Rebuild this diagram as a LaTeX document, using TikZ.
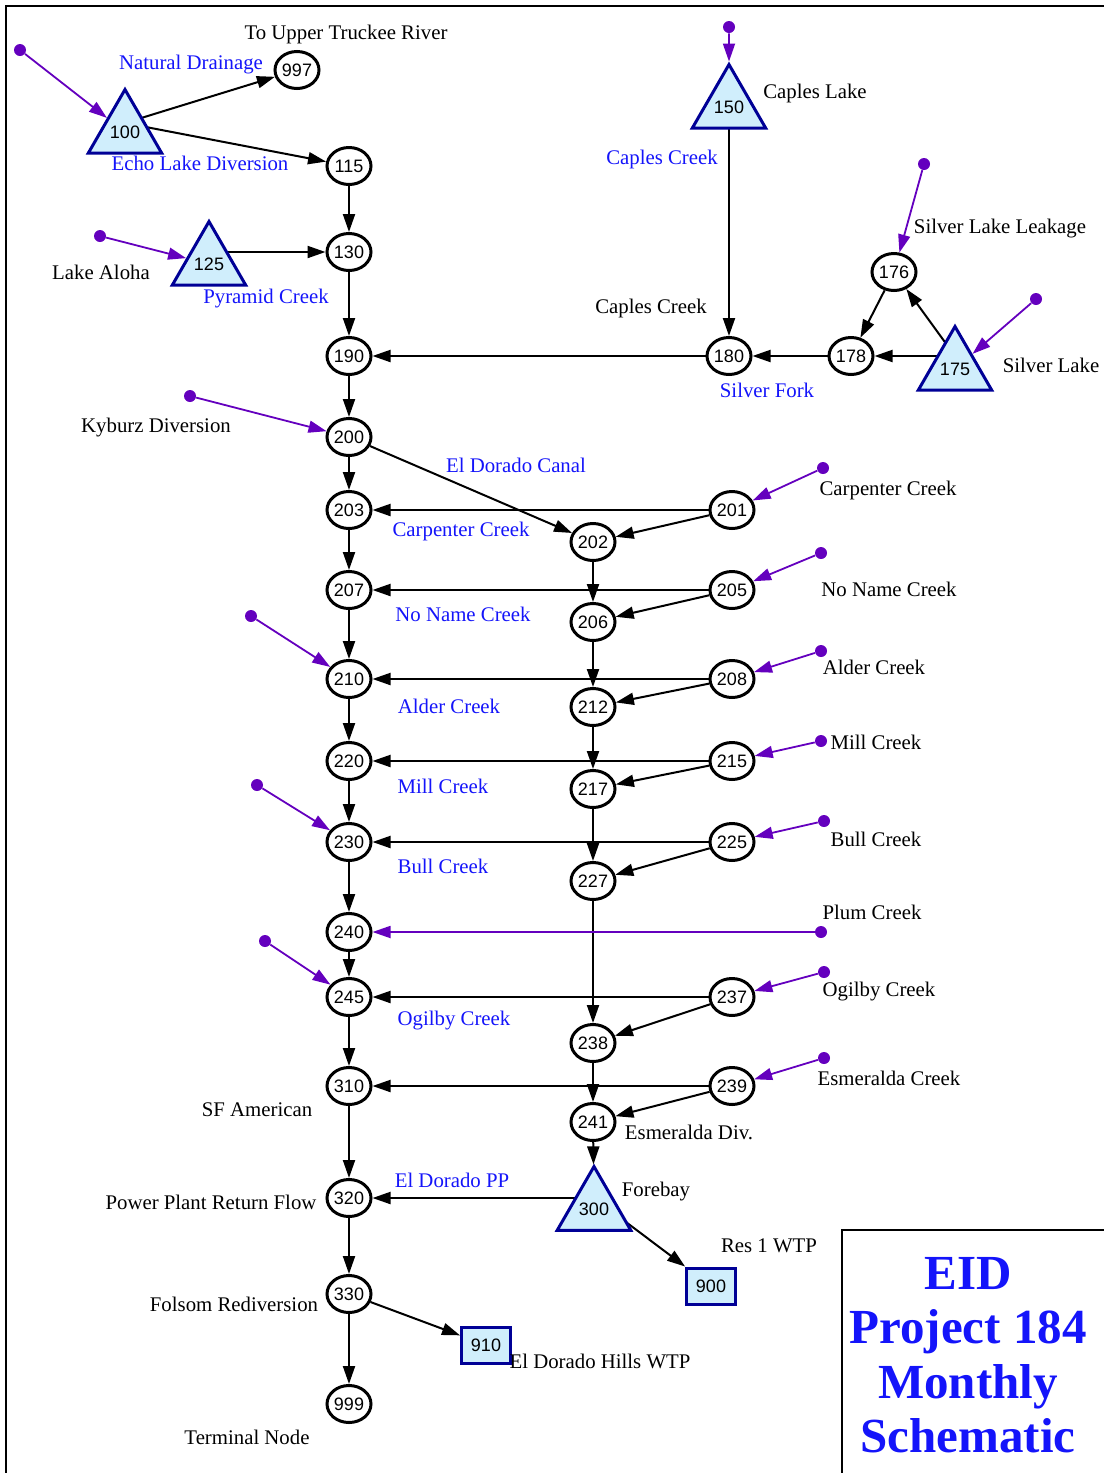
\documentclass[tikz,border=0pt]{standalone}
\usepackage{fontspec}
\setmainfont{Liberation Serif}
\newfontfamily\arialfont{Liberation Sans}
\usetikzlibrary{arrows.meta,shapes.geometric,backgrounds}
\definecolor{linkblue}{RGB}{20,20,250}
\definecolor{inpurple}{RGB}{100,0,190}
\definecolor{resblue}{RGB}{0,0,150}
\definecolor{resfill}{RGB}{208,238,252}

\begin{document}
\begin{tikzpicture}[x=0.5pt,y=-0.5pt,
    >={Triangle[length=9pt,width=6pt]},
    junc/.style={ellipse,draw,line width=1.5pt,minimum width=22pt,minimum height=18.5pt,inner sep=0pt,font=\arialfont\fontsize{9}{10}\selectfont},
    res/.style={regular polygon,regular polygon sides=3,draw=resblue,fill=resfill,line width=1.5pt,minimum size=35pt,inner sep=0pt,font=\arialfont\fontsize{9}{10}\selectfont},
    dem/.style={rectangle,draw=resblue,fill=resfill,line width=1.5pt,minimum width=24.5pt,minimum height=18pt,inner sep=0pt,font=\arialfont\fontsize{9}{10}\selectfont},
    src/.style={circle,fill=inpurple,minimum size=6pt,inner sep=0pt},
    flow/.style={->,line width=1pt},
    inflow/.style={->,draw=inpurple,line width=0.9pt},
    lbl/.style={inner sep=0pt,font=\fontsize{10.4}{12}\selectfont},
    link/.style={lbl,text=linkblue},
    title/.style={align=center,text=linkblue,font=\bfseries\fontsize{24.5}{27.2}\selectfont}]
    \useasboundingbox (0,0) rectangle (1104,1473);
    % frame and title box
    \draw[line width=1pt] (6,1473) -- (6,6) -- (1104,6);
    \draw[line width=1pt] (842,1473) -- (842,1230) -- (1104,1230);
    \node[title] (title) at (968,1355) {EID\\Project 184\\Monthly\\Schematic};

    % reservoirs
    \node[res] (n100) at (125,132) {100};
    \node[res] (n125) at (209,264) {125};
    \node[res] (n150) at (729,107) {150};
    \node[res] (n175) at (955,369) {175};
    \node[res] (n300) at (594,1209) {300};
    \coordinate (c100) at (125,123);
    \coordinate (c125) at (209,252);
    \coordinate (c150) at (729,98);
    \coordinate (c175) at (955,356);
    \coordinate (c300) at (594,1198);

    % demands
    \node[dem] (n900) at (711,1286) {900};
    \node[dem] (n910) at (486,1345) {910};

    % junctions
    \node[junc] (n997) at (297,70) {997};
    \node[junc] (n115) at (349,166) {115};
    \node[junc] (n130) at (349,252) {130};
    \node[junc] (n190) at (349,356) {190};
    \node[junc] (n180) at (729,356) {180};
    \node[junc] (n178) at (851,356) {178};
    \node[junc] (n176) at (894,272) {176};
    \node[junc] (n200) at (349,437) {200};
    \node[junc] (n203) at (349,510) {203};
    \node[junc] (n201) at (732,510) {201};
    \node[junc] (n202) at (593,542) {202};
    \node[junc] (n207) at (349,590) {207};
    \node[junc] (n205) at (732,590) {205};
    \node[junc] (n206) at (593,622) {206};
    \node[junc] (n210) at (349,679) {210};
    \node[junc] (n208) at (732,679) {208};
    \node[junc] (n212) at (593,707) {212};
    \node[junc] (n220) at (349,761) {220};
    \node[junc] (n215) at (732,761) {215};
    \node[junc] (n217) at (593,789) {217};
    \node[junc] (n230) at (349,842) {230};
    \node[junc] (n225) at (732,842) {225};
    \node[junc] (n227) at (593,881) {227};
    \node[junc] (n240) at (349,932) {240};
    \node[junc] (n245) at (349,997) {245};
    \node[junc] (n237) at (732,997) {237};
    \node[junc] (n238) at (593,1043) {238};
    \node[junc] (n310) at (349,1086) {310};
    \node[junc] (n239) at (732,1086) {239};
    \node[junc] (n241) at (593,1122) {241};
    \node[junc] (n320) at (349,1198) {320};
    \node[junc] (n330) at (349,1294) {330};
    \node[junc] (n999) at (349,1404) {999};

    % inflow points
    \node[src] (s100) at (20,50) {};
    \node[src] (s125) at (100,236) {};
    \node[src] (s150) at (729,27) {};
    \node[src] (s176) at (924,164) {};
    \node[src] (s175) at (1036,299) {};
    \node[src] (s200) at (190,396) {};
    \node[src] (s201) at (823,468) {};
    \node[src] (s205) at (821,553) {};
    \node[src] (s208) at (821,651) {};
    \node[src] (s210) at (251,616) {};
    \node[src] (s215) at (821,741) {};
    \node[src] (s225) at (824,821) {};
    \node[src] (s230) at (257,785) {};
    \node[src] (s240) at (821,932) {};
    \node[src] (s237) at (824,972) {};
    \node[src] (s245) at (265,941) {};
    \node[src] (s239) at (824,1058) {};

    % node names
    \node[lbl] (tTruckee) at (346,34) {To Upper Truckee River};
    \node[lbl] (tAloha) at (101,272) {Lake Aloha};
    \node[lbl] (tCaplesLk) at (815,93) {Caples Lake};
    \node[lbl] (tLeak) at (1000,229) {Silver Lake Leakage};
    \node[lbl] (tCaplesCk) at (651,308) {Caples Creek};
    \node[lbl] (tSilverLk) at (1051,365) {Silver Lake};
    \node[lbl] (tKyburz) at (156,428) {Kyburz Diversion};
    \node[lbl] (tCarp) at (888,490) {Carpenter Creek};
    \node[lbl] (tNoName) at (889,589) {No Name Creek};
    \node[lbl] (tAlder) at (874,667) {Alder Creek};
    \node[lbl] (tMill) at (876,742) {Mill Creek};
    \node[lbl] (tBull) at (876,839) {Bull Creek};
    \node[lbl] (tPlum) at (872,912) {Plum Creek};
    \node[lbl] (tOgilby) at (879,992) {Ogilby Creek};
    \node[lbl] (tEsmCk) at (889,1078) {Esmeralda Creek};
    \node[lbl] (tSFAm) at (257,1110) {SF American};
    \node[lbl] (tEsmDiv) at (689,1132) {Esmeralda Div.};
    \node[lbl] (tForebay) at (656,1192) {Forebay};
    \node[lbl] (tPPRF) at (211,1202) {Power Plant Return Flow};
    \node[lbl] (tRes1) at (769,1246) {Res 1 WTP};
    \node[lbl] (tFolsom) at (234,1304) {Folsom Rediversion};
    \node[lbl] (tEDH) at (600,1361) {El Dorado Hills WTP};
    \node[lbl] (tTerm) at (247,1437) {Terminal Node};

    % link names
    \node[link] (lNat) at (191,65) {Natural Drainage};
    \node[link] (lEcho) at (200,163) {Echo Lake Diversion};
    \node[link] (lPyr) at (266,299) {Pyramid Creek};
    \node[link] (lCaples) at (662,159) {Caples Creek};
    \node[link] (lSilver) at (767,390) {Silver Fork};
    \node[link] (lCanal) at (516,465) {El Dorado Canal};
    \node[link] (lCarp) at (461,531) {Carpenter Creek};
    \node[link] (lNoName) at (463,614) {No Name Creek};
    \node[link] (lAlder) at (449,706) {Alder Creek};
    \node[link] (lMill) at (443,786) {Mill Creek};
    \node[link] (lBull) at (443,866) {Bull Creek};
    \node[link] (lOgilby) at (454,1021) {Ogilby Creek};
    \node[link] (lPP) at (452,1180) {El Dorado PP};

    % releases from reservoirs
    \begin{scope}[on background layer]
    \draw[flow] (c100) -- (n997);
    \draw[flow] (c100) -- (n115);
    \draw[flow] (c125) -- (n130);
    \draw[flow] (c150) -- (n180);
    \draw[flow] (c175) -- (n178);
    \draw[flow] (c175) -- (n176);
    \draw[flow] (c300) -- (n320);
    \draw[flow] (c300) -- (n900);
    \end{scope}

    % river
    \draw[flow] (n115) -- (n130);
    \draw[flow] (n130) -- (n190);
    \draw[flow] (n176) -- (n178);
    \draw[flow] (n178) -- (n180);
    \draw[flow] (n180) -- (n190);
    \draw[flow] (n190) -- (n200);
    \draw[flow] (n200) -- (n203);
    \draw[flow] (n203) -- (n207);
    \draw[flow] (n207) -- (n210);
    \draw[flow] (n210) -- (n220);
    \draw[flow] (n220) -- (n230);
    \draw[flow] (n230) -- (n240);
    \draw[flow] (n240) -- (n245);
    \draw[flow] (n245) -- (n310);
    \draw[flow] (n310) -- (n320);
    \draw[flow] (n320) -- (n330);
    \draw[flow] (n330) -- (n999);
    \draw[flow] (n330) -- (n910);

    % canal
    \draw[flow] (n200) -- (n202);
    \draw[flow] (n202) -- (n206);
    \draw[flow] (n206) -- (n212);
    \draw[flow] (n212) -- (n217);
    \draw[flow] (n217) -- (n227);
    \draw[flow] (n227) -- (n238);
    \draw[flow] (n238) -- (n241);
    \draw[flow] (n241) -- (n300);

    % creek splits
    \draw[flow] (n201) -- (n203);
    \draw[flow] (n201) -- (n202);
    \draw[flow] (n205) -- (n207);
    \draw[flow] (n205) -- (n206);
    \draw[flow] (n208) -- (n210);
    \draw[flow] (n208) -- (n212);
    \draw[flow] (n215) -- (n220);
    \draw[flow] (n215) -- (n217);
    \draw[flow] (n225) -- (n230);
    \draw[flow] (n225) -- (n227);
    \draw[flow] (n237) -- (n245);
    \draw[flow] (n237) -- (n238);
    \draw[flow] (n239) -- (n310);
    \draw[flow] (n239) -- (n241);

    % inflows
    \draw[inflow] (s100) -- (n100);
    \draw[inflow] (s125) -- (n125);
    \draw[inflow] (s150) -- (n150);
    \draw[inflow] (s176) -- (n176);
    \draw[inflow] (s175) -- (n175);
    \draw[inflow] (s200) -- (n200);
    \draw[inflow] (s201) -- (n201);
    \draw[inflow] (s205) -- (n205);
    \draw[inflow] (s208) -- (n208);
    \draw[inflow] (s210) -- (n210);
    \draw[inflow] (s215) -- (n215);
    \draw[inflow] (s225) -- (n225);
    \draw[inflow] (s230) -- (n230);
    \draw[inflow] (s240) -- (n240);
    \draw[inflow] (s237) -- (n237);
    \draw[inflow] (s245) -- (n245);
    \draw[inflow] (s239) -- (n239);
\end{tikzpicture}
\end{document}
